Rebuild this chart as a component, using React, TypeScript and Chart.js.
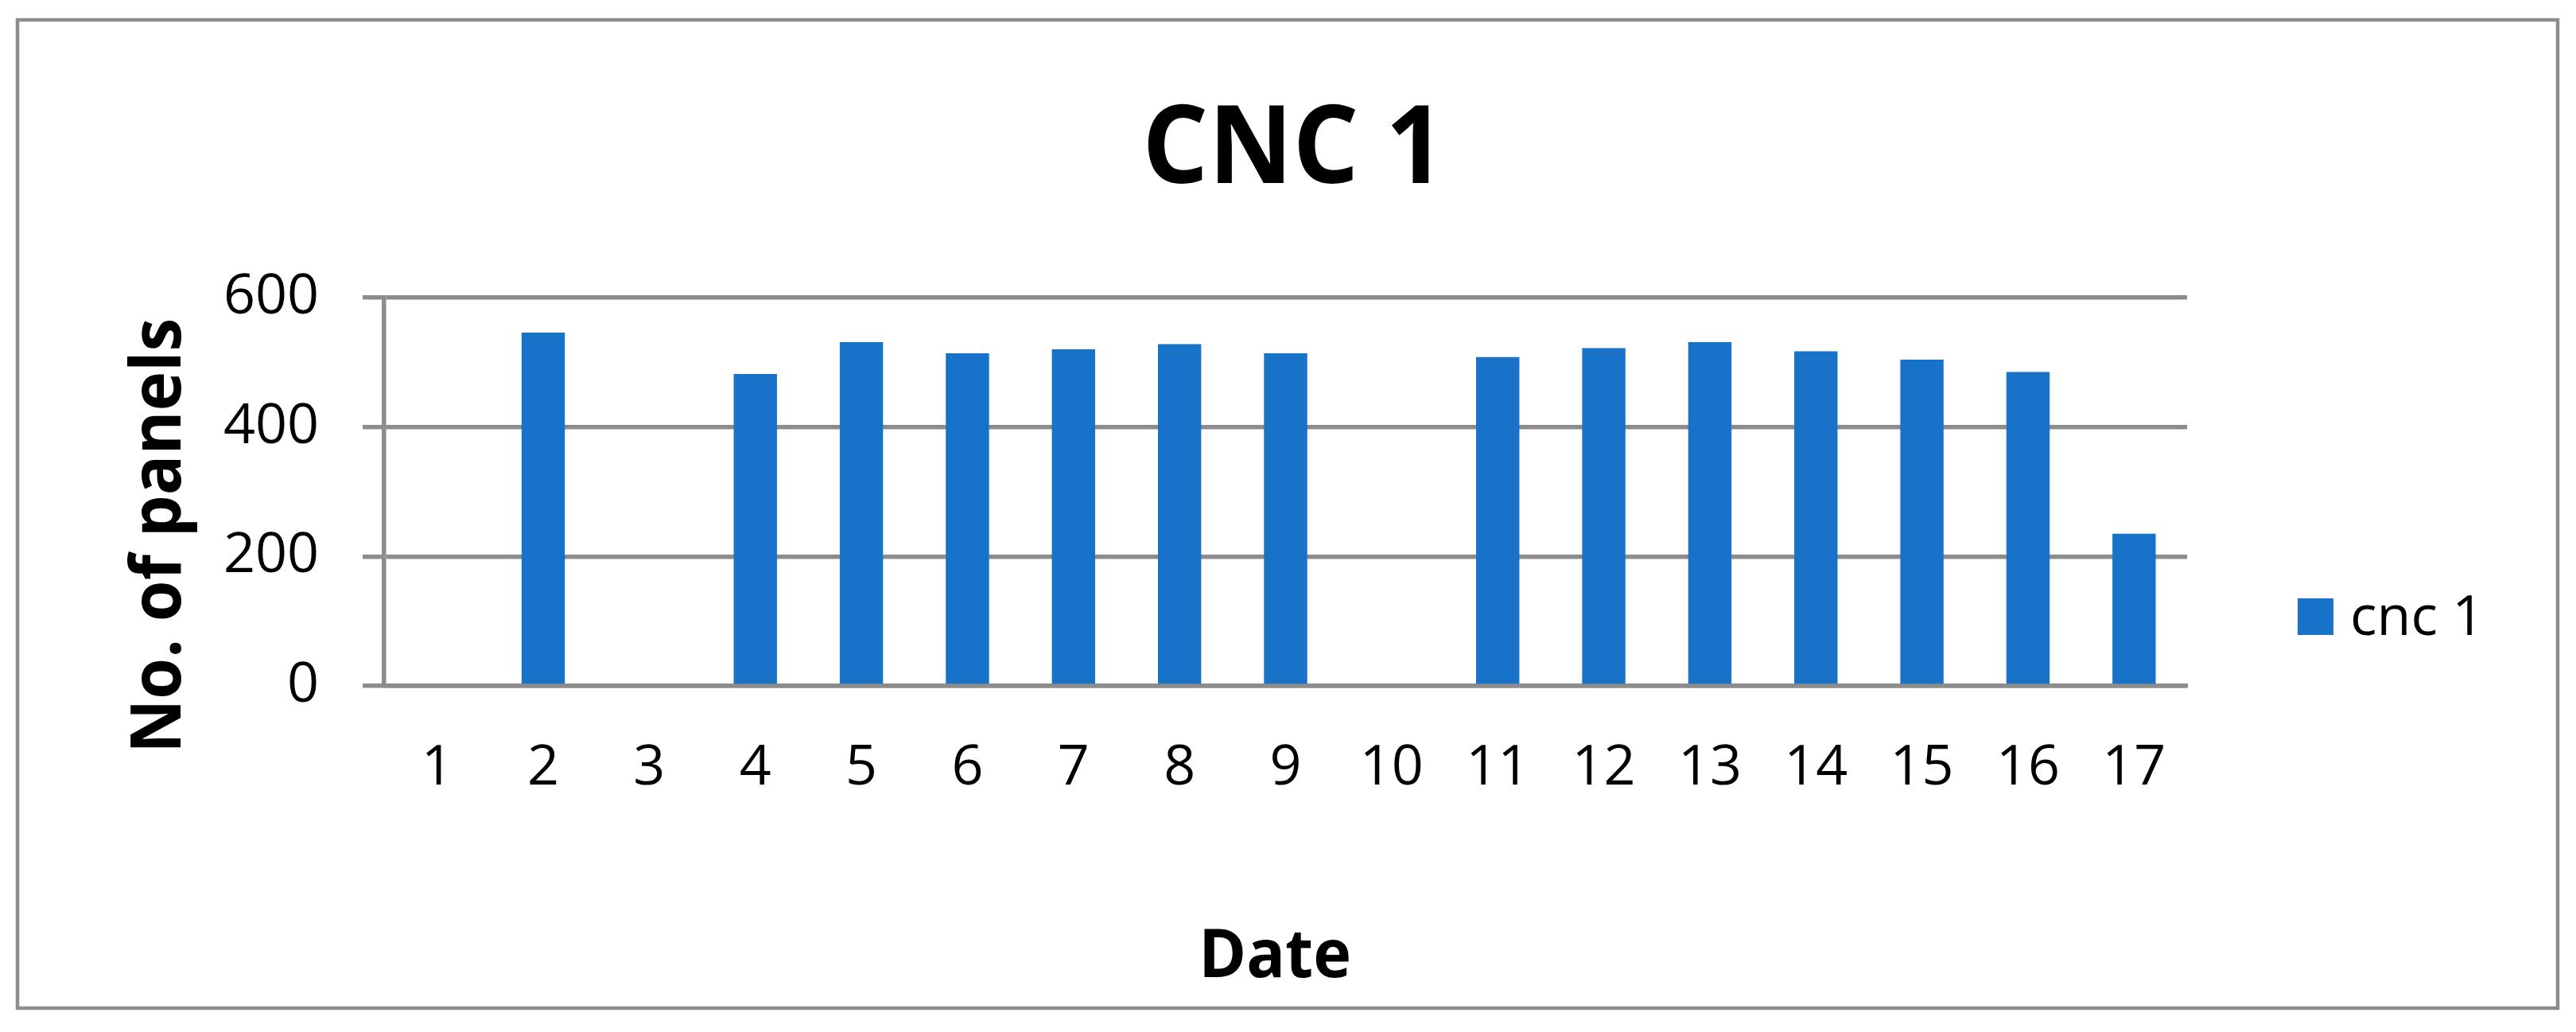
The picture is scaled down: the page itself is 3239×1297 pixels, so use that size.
import React, { useEffect, useRef } from "react";
import { Chart, registerables } from "chart.js";

Chart.register(...registerables);

// ---- data ----
const categories = ["1", "2", "3", "4", "5", "6", "7", "8", "9", "10", "11", "12", "13", "14", "15", "16", "17"];
const cnc1Values = [0, 546, 0, 482, 531, 514, 520, 528, 514, 0, 508, 522, 531, 517, 504, 485, 235];
const yMin = 0;
const yMax = 600;
const yStep = 200;
const chartTitle = "CNC 1";
const xAxisTitle = "Date";
const yAxisTitle = "No. of panels";
const seriesName = "cnc 1";

// ---- styles ----
const W = 3239;
const H = 1297;
const FONT = "'Open Sans', 'Noto Sans', sans-serif";
const BAR_COLOR = "#1873c8";
const LINE_COLOR = "#8c8c8c";
const LINE_W = 5.5;
const PLOT = { left: 483, right: 2750, top: 374, bottom: 862 };

function drawInk(
  ctx: CanvasRenderingContext2D,
  text: string,
  inkLeft: number,
  baseline: number,
  inkWidth: number
) {
  ctx.textAlign = "left";
  ctx.textBaseline = "alphabetic";
  const m = ctx.measureText(text);
  const abl = m.actualBoundingBoxLeft;
  const w = abl + m.actualBoundingBoxRight;
  const sx = inkWidth / w;
  ctx.save();
  ctx.translate(inkLeft, baseline);
  ctx.scale(sx, 1);
  ctx.fillText(text, abl, 0);
  ctx.restore();
}

const decorPlugin = {
  id: "decor",
  beforeDraw(chart: any) {
    const ctx: CanvasRenderingContext2D = chart.ctx;
    ctx.save();
    ctx.fillStyle = "#ffffff";
    ctx.fillRect(0, 0, W, H);
    ctx.strokeStyle = LINE_COLOR;
    ctx.lineWidth = 4.5;
    ctx.strokeRect(22, 25, 3194, 1242);
    ctx.restore();
  },
  afterDraw(chart: any) {
    const ctx: CanvasRenderingContext2D = chart.ctx;
    ctx.save();
    ctx.fillStyle = "#000000";
    // chart title
    ctx.font = `bold 136px ${FONT}`;
    drawInk(ctx, chartTitle, 1443, 230, 354);
    // x axis title
    ctx.font = `bold 85px ${FONT}`;
    drawInk(ctx, xAxisTitle, 1514, 1228, 182);
    // y axis title (rotated)
    ctx.save();
    ctx.translate(227, 940);
    ctx.rotate(-Math.PI / 2);
    ctx.font = `bold 87px ${FONT}`;
    drawInk(ctx, yAxisTitle, 0, 0, 537);
    ctx.restore();
    // legend
    const ds = chart.data.datasets[0];
    ctx.fillStyle = ds.backgroundColor;
    ctx.fillRect(2889, 752, 45, 46);
    ctx.fillStyle = "#000000";
    ctx.font = `70px ${FONT}`;
    ctx.textAlign = "left";
    ctx.textBaseline = "alphabetic";
    ctx.fillText(ds.label, 2955, 798);
    ctx.restore();
  },
};

export default function App() {
  const canvasRef = useRef<HTMLCanvasElement | null>(null);

  useEffect(() => {
    const canvas = canvasRef.current;
    if (!canvas) return;
    const chart = new Chart(canvas, {
      type: "bar",
      data: {
        labels: categories,
        datasets: [
          {
            label: seriesName,
            data: cnc1Values,
            backgroundColor: BAR_COLOR,
            borderWidth: 0,
            barPercentage: 0.408,
            categoryPercentage: 1,
          },
        ],
      },
      options: {
        responsive: false,
        animation: false,
        devicePixelRatio: 1,
        layout: {
          padding: { left: 0, right: W - PLOT.right, top: PLOT.top, bottom: 0 },
        },
        plugins: {
          legend: { display: false },
          title: { display: false },
          tooltip: { enabled: false },
        },
        scales: {
          x: {
            afterFit: (s: any) => {
              s.height = H - PLOT.bottom;
            },
            grid: { display: false, drawTicks: false },
            border: { display: true, color: LINE_COLOR, width: LINE_W },
            ticks: {
              color: "#000000",
              font: { family: FONT, size: 70 },
              padding: 62,
              maxRotation: 0,
              autoSkip: false,
            },
          },
          y: {
            min: yMin,
            max: yMax,
            afterFit: (s: any) => {
              s.width = PLOT.left;
            },
            grid: { color: LINE_COLOR, lineWidth: LINE_W, tickLength: 27, drawTicks: true },
            border: { display: true, color: LINE_COLOR, width: LINE_W },
            ticks: {
              stepSize: yStep,
              color: "#000000",
              font: { family: FONT, size: 70 },
              padding: 55,
            },
          },
        },
      },
      plugins: [decorPlugin],
    });
    return () => chart.destroy();
  }, []);

  return (
    <div style={{ position: "absolute", left: 0, top: 0, width: W, height: H, background: "#fff" }}>
      <canvas ref={canvasRef} width={W} height={H} style={{ width: W, height: H, display: "block" }} />
    </div>
  );
}
